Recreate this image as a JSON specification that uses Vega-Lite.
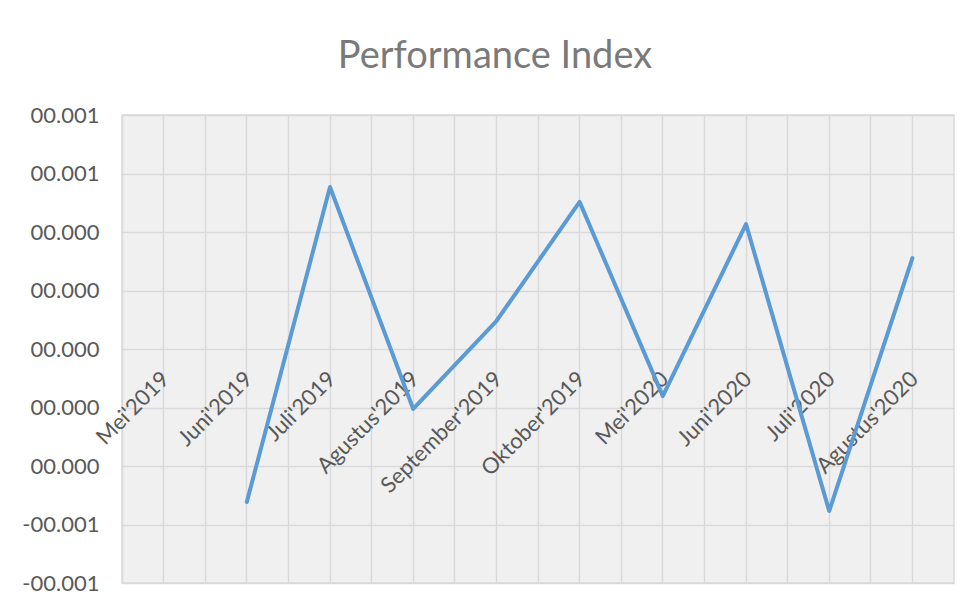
{
  "$schema": "https://vega.github.io/schema/vega-lite/v6.json",
  "width": 832,
  "height": 468,
  "autosize": {"type": "none"},
  "padding": {"left": 122, "top": 115, "right": 18, "bottom": 24},
  "background": "white",
  "title": {
    "text": "Performance Index",
    "font": "Lato",
    "fontSize": 38,
    "fontWeight": "normal",
    "color": "#7a7a7a",
    "anchor": "middle",
    "frame": "group",
    "dx": -43,
    "offset": -2,
    "baseline": "alphabetic"
  },
  "data": {
    "values": [
      {"bulan": "Mei'2019", "nilai": null},
      {"bulan": "Juni'2019", "nilai": -0.000523},
      {"bulan": "Juli'2019", "nilai": 0.000554},
      {"bulan": "Agustus'2019", "nilai": -0.000205},
      {"bulan": "September'2019", "nilai": 0.0000957},
      {"bulan": "Oktober'2019", "nilai": 0.000503},
      {"bulan": "Mei'2020", "nilai": -0.000161},
      {"bulan": "Juni'2020", "nilai": 0.000427},
      {"bulan": "Juli'2020", "nilai": -0.000554},
      {"bulan": "Agustus'2020", "nilai": 0.000311}
    ]
  },
  "config": {
    "view": {"fill": "#f0f0f0", "stroke": "#d9d9d9", "strokeWidth": 1.5},
    "axis": {"gridColor": "#d9d9d9", "gridWidth": 1.5, "gridOpacity": 1}
  },
  "resolve": {"axis": {"x": "independent"}},
  "layer": [
    {
      "mark": {"type": "line", "opacity": 0},
      "encoding": {
        "x": {
          "field": "bulan", "type": "ordinal", "sort": null, "bandPosition": 0.5,
          "scale": {"type": "band", "paddingInner": 0, "paddingOuter": 0,
            "domain": ["Mei'2019", "Juni'2019", "Juli'2019", "Agustus'2019", "September'2019", "Oktober'2019", "Mei'2020", "Juni'2020", "Juli'2020", "Agustus'2020"]},
          "axis": {"orient": "top", "title": null, "labels": false, "ticks": false, "domain": false, "grid": true, "bandPosition": 0}
        },
        "y": {"field": "nilai", "type": "quantitative"}
      }
    },
    {
      "mark": {"type": "line", "opacity": 0},
      "encoding": {
        "x": {
          "field": "bulan", "type": "ordinal", "sort": null, "bandPosition": 0.5,
          "axis": {"orient": "top", "title": null, "labels": false, "ticks": false, "domain": false, "grid": true, "bandPosition": 0.5}
        },
        "y": {"field": "nilai", "type": "quantitative"}
      }
    },
    {
      "mark": {"type": "line", "color": "#5b9bd5", "strokeWidth": 4, "strokeJoin": "round", "strokeCap": "round"},
      "encoding": {
        "x": {
          "field": "bulan", "type": "ordinal", "sort": null, "bandPosition": 0.5,
          "axis": {
            "orient": "bottom", "title": null, "grid": false, "ticks": false, "tickSize": 0, "domain": false,
            "offset": -233, "bandPosition": 0.5,
            "labelAngle": -45, "labelAlign": "right", "labelBaseline": "top",
            "labelPadding": 18, "labelOffset": -5,
            "labelFont": "Lato", "labelFontSize": 22, "labelColor": "#595959",
            "labelOverlap": false, "labelBound": false, "labelFlush": false
          }
        },
        "y": {
          "field": "nilai", "type": "quantitative",
          "scale": {"domain": [-0.0008, 0.0008], "nice": false, "zero": false},
          "axis": {
            "title": null, "values": [-0.0008, -0.0006, -0.0004, -0.0002, 0, 0.0002, 0.0004, 0.0006, 0.0008],
            "labelExpr": "(round(datum.value*1000) < 0 ? '-' : '') + format(abs(datum.value), '06.3f')",
            "grid": true, "ticks": false, "tickSize": 0, "domain": false,
            "labelPadding": 23, "labelFont": "Lato", "labelFontSize": 22, "labelColor": "#595959",
            "labelBaseline": "middle", "labelFlush": false, "labelOverlap": false
          }
        }
      }
    }
  ]
}
